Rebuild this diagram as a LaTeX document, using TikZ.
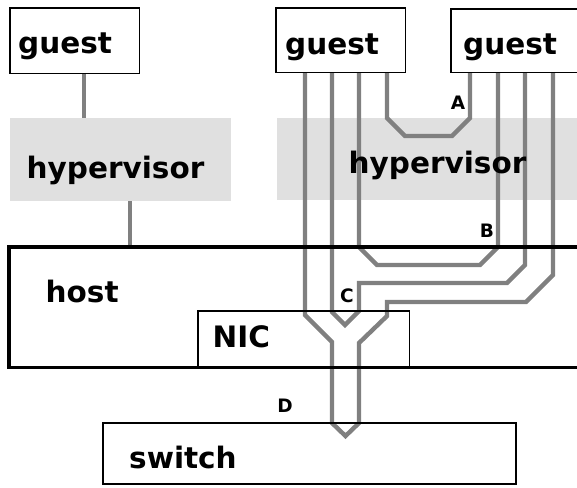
\documentclass[tikz,border=0pt]{standalone}
\usepackage{fontspec}
\setmainfont{DejaVu Sans}
\begin{document}
\begin{tikzpicture}[x=1pt,y=-1pt,
  box/.style={draw=black,line width=1.3pt,inner sep=0pt,anchor=north west},
  hvbox/.style={fill=hvgray,draw=none,inner sep=0pt,anchor=north west},
  conn/.style={draw=conngray,line width=4.4pt},
  big/.style={inner sep=0pt,anchor=base west,font=\fontsize{29.5}{34}\selectfont\bfseries},
  tag/.style={inner sep=0pt,font=\fontsize{18.5}{20}\selectfont\bfseries}]
\definecolor{hvgray}{HTML}{E0E0E0}
\definecolor{conngray}{HTML}{808080}
\useasboundingbox (0,0) rectangle (577,487);
% hypervisor areas
\node[hvbox,minimum width=221pt,minimum height=83pt] (hv1) at (10,118) {};
\node[hvbox,minimum width=310pt,minimum height=82pt] (hv2) at (277,118) {};
% box shapes (named, borders drawn later)
\node[inner sep=0pt,anchor=north west,minimum width=129pt,minimum height=65pt] (g1) at (10,8) {};
\node[inner sep=0pt,anchor=north west,minimum width=129pt,minimum height=64pt] (g2) at (276,8) {};
\node[inner sep=0pt,anchor=north west,minimum width=140pt,minimum height=63pt] (g3) at (451,9) {};
\node[inner sep=0pt,anchor=north west,minimum width=580pt,minimum height=120pt] (host) at (9,247) {};
\node[inner sep=0pt,anchor=north west,minimum width=211pt,minimum height=56pt] (nic) at (198,311) {};
\node[inner sep=0pt,anchor=north west,minimum width=413pt,minimum height=61pt] (sw) at (103,423) {};
% simple connectors
\draw[conn] ([xshift=9.5pt]g1.south) -- ([xshift=9.5pt]g1.south |- hv1.north);
\draw[conn] ([xshift=9.5pt]hv1.south) -- ([xshift=9.5pt]hv1.south |- host.north);
% path A
\draw[conn] ([xshift=111pt]g2.south west) -- (387,118) -- (405,136) -- (452,136) -- (470,118) -- ([xshift=19pt]g3.south west);
% path B
\draw[conn] ([xshift=83pt]g2.south west) -- (359,247) -- (377,265) -- (480,265) -- (498,247) -- ([xshift=47pt]g3.south west);
% path C
\draw[conn] ([xshift=56pt]g2.south west) -- (332,312) -- (345,325) -- (359,311) -- (359,283) -- (507,283) -- (525,265) -- ([xshift=74pt]g3.south west);
% path D
\draw[conn] ([xshift=29pt]g2.south west) -- (305,315) -- (332,342) -- (332,423) -- (345.5,436) -- (359,423) -- (359,343) -- (387,316) -- (387,302) -- (526,302) -- (553,275) -- ([xshift=102pt]g3.south west);
% borders
\draw[line width=1.3pt] (g1.north west) rectangle (g1.south east);
\draw[line width=1.3pt] (g2.north west) rectangle (g2.south east);
\draw[line width=1.3pt] (g3.north east) -- (g3.north west) -- (g3.south west) -- (g3.south east);
\draw[line width=3.5pt] (host.north east) -- (host.north west) -- (host.south west) -- (host.south east);
\draw[line width=1.3pt] (nic.south west) -- (nic.north west) -- (nic.north east) -- (nic.south east);
\draw[line width=2pt] (sw.north west) rectangle (sw.south east);
% texts
\node[big] (t1) at (18,53) {guest};
\node[big] (t2) at (285,54) {guest};
\node[big] (t3) at (463,54) {guest};
\node[big] (th1) at (26.5,178) {hypervisor};
\node[big] (th2) at (348.5,173) {hypervisor};
\node[big] (th) at (45.5,302) {host};
\node[big] (tn) at (212.5,347) {NIC};
\node[big] (ts) at (129,468) {switch};
\node[tag] (la) at (458,103) {A};
\node[tag] (lb) at (487,231) {B};
\node[tag] (lc) at (347,296) {C};
\node[tag] (ld) at (285,406) {D};
\end{tikzpicture}
\end{document}
